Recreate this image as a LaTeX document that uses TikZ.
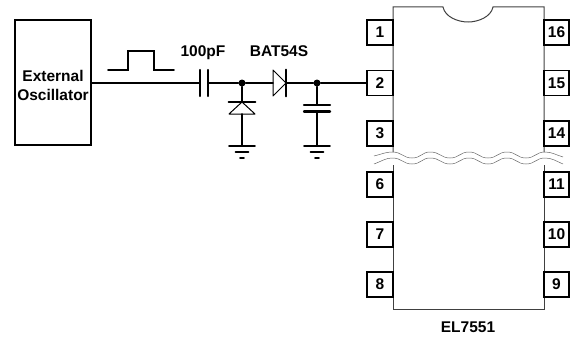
\documentclass[tikz,border=0pt]{standalone}
\usepackage{fontspec}
\setmainfont{Liberation Sans}
\usetikzlibrary{arrows,calc}

\tikzset{
  wire/.style={line width=1.7pt, line cap=round},
  plate/.style={line width=2.4pt, line cap=round},
  pinbox/.style={draw, line width=1.7pt, fill=white, minimum width=25.5pt, minimum height=25pt, inner sep=0pt, font=\fontsize{15.5}{15.5}\selectfont\bfseries},
  lbl/.style={inner sep=0pt, font=\fontsize{15.5}{15.5}\selectfont\bfseries},
  dot/.style={circle, fill=black, minimum size=7pt, inner sep=0pt},
  pkg/.style={line width=1pt, draw=black!75},
  brk/.style={line width=0.5pt, draw=black!60}
}

\begin{document}
\begin{tikzpicture}[x=1pt, y=-1pt]
\useasboundingbox (0,0) rectangle (572,337);
%% Oscillator
\draw[wire] (15,20) rectangle (91,145);
\draw (53,85.5) node[lbl, align=center] (osc) {External\\[3.5pt]Oscillator};
\coordinate (oscout) at (91,83);
%% Pulse
\coordinate (pulse) at (108,70);
\path[draw, wire] (pulse) -- ++(20,0) -- ++(0,-19) -- ++(26,0) -- ++(0,19) -- ++(20,0);

%%%%%%%%%%%%%%%%%%%%%% Input network

\draw (200,83) coordinate (c1a);
\draw (c1a) ++ (8,0) coordinate (c1b);
\path[draw, wire] (oscout) -- (c1a);
\path[draw, plate] (c1a) ++ (0,-13) -- ++(0,26);
\path[draw, plate] (c1b) ++ (0,-13) -- ++(0,26);
\draw (203,56.5) node[lbl, anchor=base] (c1lbl) {100pF};
%% J1
\draw (242,83) node[dot] (j1) {};
\path[draw, wire] (c1b) -- (j1);
%% D1
\draw (j1) ++ (0,19) coordinate (d1k);
\draw (d1k) ++ (0,12) coordinate (d1a);
\path[draw, wire] (j1) -- (d1k);
\path[draw, wire] (d1k) ++ (-13.5,0) -- ++(27,0);
\path[draw, line width=1pt, line join=round] (d1k) -- ($(d1a)+(13,0)$) -- ($(d1a)+(-13,0)$) -- cycle;
%% G1
\draw (j1) ++ (0,63) coordinate (g1);
\path[draw, wire] (d1a) -- (g1);
\path[draw, wire] (g1) ++ (-13,0) -- ++(26,0);
\path[draw, wire] (g1) ++ (-6.5,6) -- ++(13,0);
\path[draw, wire] (g1) ++ (-2,12) -- ++(4,0);
%% D2
\draw (273,83) coordinate (d2a);
\draw (d2a) ++ (13,0) coordinate (d2k);
\path[draw, wire] (j1) -- (d2a);
\path[draw, line width=1pt, line join=round] (d2k) -- ($(d2a)+(0,-13)$) -- ($(d2a)+(0,13)$) -- cycle;
\path[draw, wire] (d2k) ++ (0,-13.5) -- ++(0,27);
\draw (279,56.5) node[lbl, anchor=base] (d2lbl) {BAT54S};
%% J2
\draw (317,83) node[dot] (j2) {};
\path[draw, wire] (d2k) -- (j2);
%% C2
\draw (j2) ++ (0,22) coordinate (c2a);
\draw (c2a) ++ (0,6.5) coordinate (c2b);
\path[draw, wire] (j2) -- (c2a);
\path[draw, plate] (c2a) ++ (-13,0) -- ++(26,0);
\path[draw, plate] (c2b) ++ (-13,0) -- ++(26,0);
%% G2
\draw (j2) ++ (0,63) coordinate (g2);
\path[draw, wire] (c2b) -- (g2);
\path[draw, wire] (g2) ++ (-13,0) -- ++(26,0);
\path[draw, wire] (g2) ++ (-6.5,6) -- ++(13,0);
\path[draw, wire] (g2) ++ (-2,12) -- ++(4,0);

%%%%%%%%%%%%%%%%%%%%%% Package

\path[draw, pkg] (393,152) -- (393,7) -- (443,7) .. controls (445,17) and (458,22) .. (468,22)
  .. controls (478,22) and (491,17) .. (493,7) -- (544,7) -- (544,152);
\path[draw, pkg] (393,165) -- (393,309) -- (544,309) -- (544,165);
%% Break
\path[draw, brk] (374,156) .. controls (382,154) and (386,152) .. (392,152)
  .. controls (402,152) and (403,158) .. (412,158) .. controls (421,158) and (422,152) .. (430,152)
  .. controls (440,152) and (441,158) .. (450,158) .. controls (459,158) and (460,152) .. (469,152)
  .. controls (478,152) and (479,158) .. (488,158) .. controls (497,158) and (498,152) .. (507,152)
  .. controls (516,152) and (517,158) .. (526,158) .. controls (535,158) and (536,152) .. (545,152)
  .. controls (552,152) and (556,155) .. (563,157);
\path[draw, brk] (374,164) .. controls (382,161) and (386,158) .. (392,158)
  .. controls (402,158) and (403,164) .. (412,164) .. controls (421,164) and (422,158) .. (430,158)
  .. controls (440,158) and (441,164) .. (450,164) .. controls (459,164) and (460,158) .. (469,158)
  .. controls (478,158) and (479,164) .. (488,164) .. controls (497,164) and (498,158) .. (507,158)
  .. controls (516,158) and (517,164) .. (526,164) .. controls (535,164) and (536,158) .. (545,158)
  .. controls (552,158) and (556,161) .. (563,164);
%% Pins
\draw (380,32.5) node[pinbox] (p1) {1};
\draw (p1) ++ (0,50.5) node[pinbox] (p2) {2};
\draw (p2) ++ (0,50.5) node[pinbox] (p3) {3};
\draw (380,184.5) node[pinbox] (p6) {6};
\draw (p6) ++ (0,50) node[pinbox] (p7) {7};
\draw (p7) ++ (0,50) node[pinbox] (p8) {8};
\draw (556.5,32.5) node[pinbox] (p16) {16};
\draw (p16) ++ (0,50.5) node[pinbox] (p15) {15};
\draw (p15) ++ (0,50.5) node[pinbox] (p14) {14};
\draw (556.5,184.5) node[pinbox] (p11) {11};
\draw (p11) ++ (0,50) node[pinbox] (p10) {10};
\draw (p10) ++ (0,50) node[pinbox] (p9) {9};
\path[draw, wire] (j2) -- (p2.west);
\draw (468,332.5) node[lbl, anchor=base] (ic) {EL7551};
\end{tikzpicture}
\end{document}
